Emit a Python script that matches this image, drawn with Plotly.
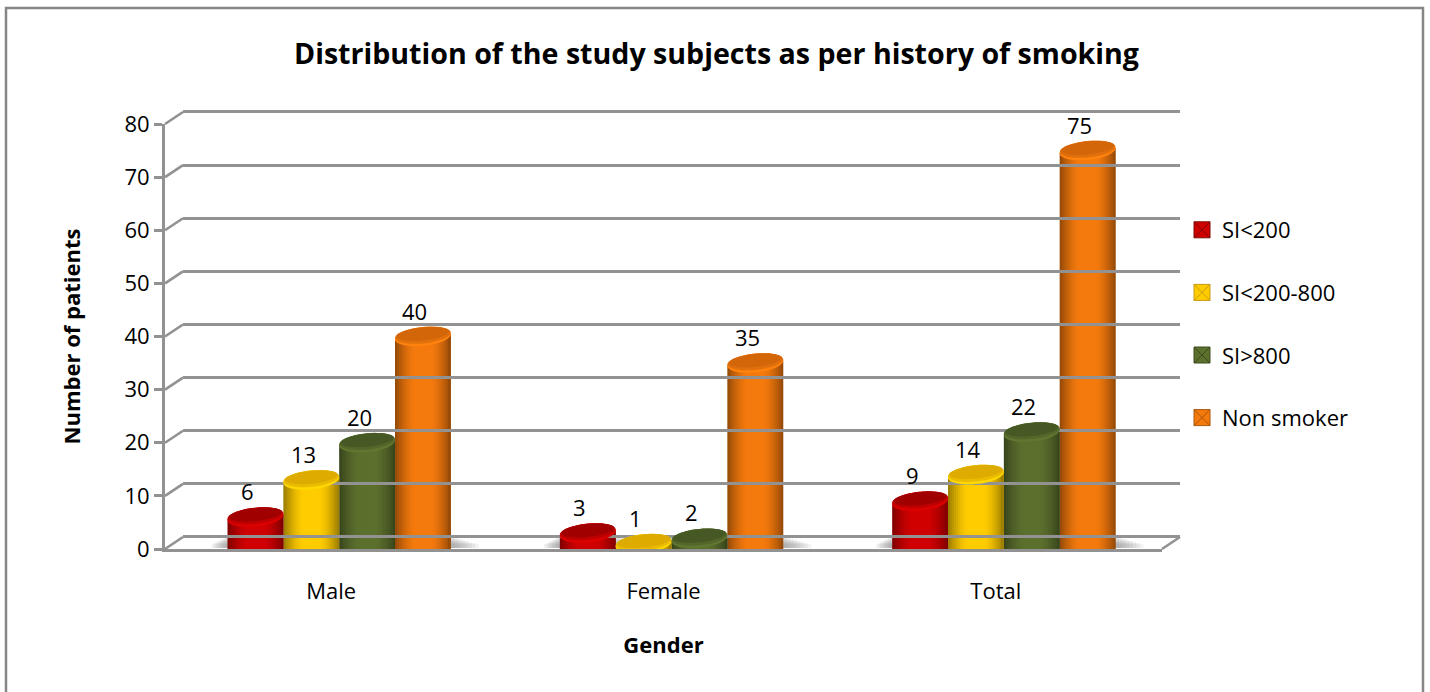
import math
import plotly.graph_objects as go

categories = ["Male", "Female", "Total"]
series_names = ["SI<200", "SI<200-800", "SI>800", "Non smoker"]
si_under_200 = [6, 3, 9]
si_200_800 = [13, 1, 14]
si_over_800 = [20, 2, 22]
non_smoker = [40, 35, 75]
y_ticks = [0, 10, 20, 30, 40, 50, 60, 70, 80]

series_values = [si_under_200, si_200_800, si_over_800, non_smoker]
body_colors = [(208, 0, 0), (255, 204, 0), (92, 112, 46), (244, 122, 14)]
top_colors = [(160, 0, 0), (222, 172, 0), (70, 88, 36), (212, 102, 10)]
legend_line = ["#7d0a0a", "#c79a10", "#3d4c1e", "#a8560c"]

W, H = 1430, 692
FX0, FX1, FY0, FY1 = 165, 1162, 549, 124   # front plane, px
BDX, BDY = 8, 0                            # cylinder plane shift, px
WDX, WDY = 18, 12                          # back wall shift, px
PX_PER_UNIT = (FY0 - FY1) / 80
PX_PER_CAT = (FX1 - FX0) / 3
BAR_W = 0.168
STRIPS = 28
TILT = 2.6
A, B = 28.0, 9.5
FONT = "Open Sans"


def rgb(c, f=1.0):
    return "rgb(%d,%d,%d)" % tuple(min(255, int(v * f)) for v in c)


def shade(u):
    return 1 - 0.40 * max(0.0, (abs(u) - 0.3) / 0.7) ** 1.5


def xd(x0, x1):
    return [x0 / W, x1 / W]


def yd(y_bottom, y_top):
    return [1 - y_bottom / H, 1 - y_top / H]


fig = go.Figure()

# back wall gridlines
fig.add_trace(go.Scatter(x=[0], y=[0], xaxis="x3", yaxis="y3", mode="none",
                         showlegend=False, hoverinfo="skip"))
# front axes anchor
fig.add_trace(go.Scatter(x=[0], y=[0], xaxis="x", yaxis="y", mode="none",
                         showlegend=False, hoverinfo="skip"))

xs, tops, cols = [], [], []
for i, vals in enumerate(series_values):
    x = [c + (i - 1.5) * BAR_W for c in range(len(categories))]
    fig.add_trace(go.Bar(x=x, y=vals, name=series_names[i], width=0.09,
                         marker=dict(color=rgb(body_colors[i]), line=dict(width=0)),
                         xaxis="x2", yaxis="y2", cliponaxis=False, showlegend=False))
    xs += x
    tops += vals
    cols += [i] * len(x)

# cylinder shading: strips painted left to right, each overlapping the next
dw = BAR_W / STRIPS
for k in range(STRIPS):
    u = -1 + (2 * k + 1) / STRIPS
    left = -BAR_W / 2 + k * dw
    w = min(2.2 * dw, BAR_W / 2 - left)
    top_off = TILT * u / PX_PER_UNIT
    base_off = (-5 - 5.6 * math.sqrt(max(0, 1 - u * u)) + TILT * u) / PX_PER_UNIT
    fig.add_trace(go.Bar(
        x=[x + left + w / 2 for x in xs],
        y=[t + top_off - base_off for t in tops],
        base=[base_off] * len(xs),
        width=w,
        marker=dict(color=[rgb(body_colors[c], shade(u)) for c in cols], line=dict(width=0)),
        xaxis="x2", yaxis="y2", cliponaxis=False, showlegend=False, hoverinfo="skip"))

# legend entries
for i, name in enumerate(series_names):
    fig.add_trace(go.Scatter(x=[None], y=[None], name=name, mode="markers",
                             legendgroup=name, xaxis="x2", yaxis="y2",
                             marker=dict(symbol="square-x", size=16, color=rgb(body_colors[i]),
                                         line=dict(color=legend_line[i], width=1))))


def ellipse_path(cx, v, a, b, dy=0.0):
    pts = []
    for j in range(48):
        t = 2 * math.pi * j / 48
        px = a * math.cos(t)
        py = b * math.sin(t) + TILT * math.cos(t) + dy
        pts.append((cx + px / PX_PER_CAT, v + py / PX_PER_UNIT))
    return "M" + "L".join("%.4f,%.4f" % p for p in pts) + "Z"


shapes = []


def px_line(x0, y0, x1, y1, color="#929292", width=2.6):
    shapes.append(dict(type="line", xref="paper", yref="paper",
                       x0=x0 / W, x1=x1 / W, y0=1 - y0 / H, y1=1 - y1 / H,
                       line=dict(color=color, width=width), layer="below"))


# floor shadow behind each group
for c in range(len(categories)):
    for s in range(8):
        ext_l = (8 - s) * 2 / PX_PER_CAT
        ext_r = (8 - s) * 3.5 / PX_PER_CAT
        shapes.append(dict(type="rect", xref="x2", yref="paper",
                           x0=c - 2 * BAR_W - ext_l, x1=c + 2 * BAR_W + ext_r,
                           y0=1 - 548 / H, y1=1 - (544 - s) / H,
                           fillcolor="rgba(110,110,110,0.09)", line=dict(width=0), layer="below"))

# slanted connectors from the front axis to the back wall
for t in y_ticks:
    py = FY0 - t * PX_PER_UNIT
    px_line(FX0, py, FX0 + WDX, py - WDY)
px_line(FX1, FY0, FX1 + WDX, FY0 - WDY)

# cylinder tops
for i, vals in enumerate(series_values):
    for c, v in enumerate(vals):
        cx = c + (i - 1.5) * BAR_W
        shapes.append(dict(type="path", xref="x2", yref="y2", layer="above",
                           path=ellipse_path(cx, v, A, B),
                           fillcolor=rgb(body_colors[i], 1.06), line=dict(width=0)))
        shapes.append(dict(type="path", xref="x2", yref="y2", layer="above",
                           path=ellipse_path(cx, v, A - 0.3, B - 1.3, dy=1.3),
                           fillcolor=rgb(body_colors[i], 0.92), line=dict(width=0)))
        shapes.append(dict(type="path", xref="x2", yref="y2", layer="above",
                           path=ellipse_path(cx, v, A - 1.5, B - 3, dy=2.6),
                           fillcolor=rgb(top_colors[i]), line=dict(width=0)))

# outer frame
shapes.append(dict(type="rect", xref="paper", yref="paper", x0=6 / W, x1=1423 / W,
                   y0=-0.02, y1=1 - 8 / H, line=dict(color="#868686", width=2.5),
                   fillcolor="rgba(0,0,0,0)", layer="below"))

annotations = []
for i, vals in enumerate(series_values):
    for c, v in enumerate(vals):
        annotations.append(dict(x=c + (i - 1.5) * BAR_W, y=v, xref="x2", yref="y2",
                                text=str(v), showarrow=False, xshift=-8, yshift=26,
                                font=dict(family=FONT, size=22, color="#000000")))

axis_font = dict(family=FONT, size=22, color="#000000")
fig.update_layout(
    width=W, height=H, autosize=False,
    margin=dict(l=0, r=0, t=0, b=0, pad=0),
    paper_bgcolor="white", plot_bgcolor="rgba(0,0,0,0)",
    barmode="overlay",
    title=dict(text="<b>Distribution of the study subjects as per history of smoking</b>",
               x=716.5 / W, xanchor="center", xref="paper",
               y=1 - 54 / H, yanchor="middle", yref="paper",
               font=dict(family=FONT, size=28.6, color="#000000"), automargin=False),
    xaxis=dict(domain=xd(FX0, FX1), range=[-0.5, 2.5], tickvals=[0, 1, 2], ticktext=categories,
               ticks="", tickfont=axis_font, showgrid=False, zeroline=False, showline=True,
               linecolor="#929292", linewidth=3, ticklabelstandoff=21, automargin=False,
               title=dict(text="<b>Gender</b>", font=dict(family=FONT, size=22, color="#000000"),
                          standoff=34),
               anchor="y"),
    yaxis=dict(domain=yd(FY0, FY1), range=[0, 80], tickvals=y_ticks, ticks="outside", ticklen=8,
               tickwidth=2.6, tickcolor="#929292", tickfont=axis_font, showgrid=False,
               zeroline=False, showline=True, linecolor="#929292", linewidth=3, automargin=False,
               title=dict(text="<b>Number of patients</b>",
                          font=dict(family=FONT, size=22, color="#000000"), standoff=38),
               anchor="x"),
    xaxis2=dict(domain=xd(FX0 + BDX, FX1 + BDX), range=[-0.5, 2.5], visible=False, anchor="y2",
                automargin=False),
    yaxis2=dict(domain=yd(FY0 - BDY, FY1 - BDY), range=[0, 80], visible=False, anchor="x2",
                automargin=False),
    xaxis3=dict(domain=xd(FX0 + WDX, FX1 + WDX), range=[-0.5, 2.5], showticklabels=False, ticks="",
                showgrid=False, zeroline=False, showline=False, anchor="y3", automargin=False),
    yaxis3=dict(domain=yd(FY0 - WDY + PX_PER_UNIT, FY1 - WDY - PX_PER_UNIT), range=[-1, 81],
                tickvals=y_ticks, showticklabels=False, automargin=False,
                ticks="", showgrid=True, gridcolor="#929292", gridwidth=2.6, zeroline=False,
                showline=False, anchor="x3"),
    legend=dict(x=1182 / W, y=1 - 209 / H, xanchor="left", yanchor="top",
                font=dict(family=FONT, size=22, color="#000000"),
                tracegroupgap=31, bgcolor="rgba(0,0,0,0)", itemwidth=30),
    shapes=shapes, annotations=annotations,
    showlegend=True,
)

fig.write_html("out.html", post_script="document.body.style.margin='0';",
               config={"displayModeBar": False})
